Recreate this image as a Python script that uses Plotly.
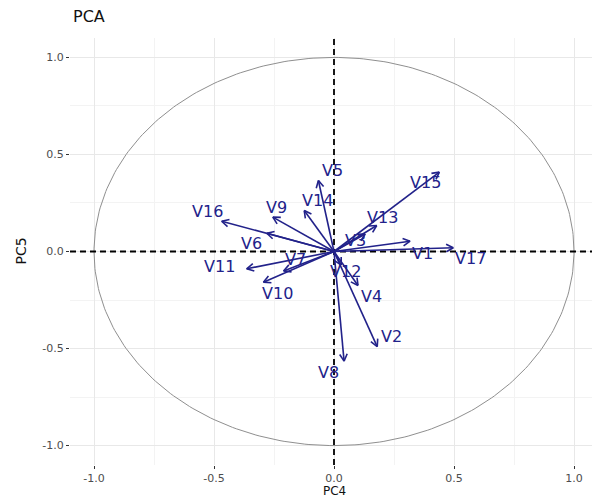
import numpy as np
import plotly.graph_objects as go

# ---- data ----
var_names = ["V1", "V2", "V3", "V4", "V5", "V6", "V7", "V8", "V9", "V10",
             "V11", "V12", "V13", "V14", "V15", "V16", "V17"]
pc4 = [0.317, 0.180, 0.130, 0.100, -0.065, -0.280, -0.210, 0.042, -0.255, -0.294,
       -0.364, 0.030, 0.178, -0.124, 0.439, -0.468, 0.497]
pc5 = [0.053, -0.490, 0.090, -0.175, 0.366, 0.094, -0.100, -0.565, 0.177, -0.158,
       -0.089, -0.070, 0.134, 0.211, 0.409, 0.156, 0.019]
x_ticks = [-1.0, -0.5, 0.0, 0.5, 1.0]
y_ticks = [-1.0, -0.5, 0.0, 0.5, 1.0]

# ---- styling / layout ----
W, H = 592, 499
ML, MR, MT, MB = 70, 0, 38, 34
XR = [-1.1, 1.075]
YR = [-1.1, 1.1]
COL = "#22228a"
FONT = "DejaVu Sans"
# label pixel offsets (dx right, dy down)
lab_dx = [12, 14, -10, 13, 14, -15, 12, -16, 4, 14, -27, 4, 6, 13, -14, -14, 17]
lab_dy = [12, -10, 6, 11, -10, 10, -11, 11, -10, 11, -2, 6, -8, -10, 10, -10, 11]

sx = (W - ML - MR) / (XR[1] - XR[0])
sy = (H - MT - MB) / (YR[1] - YR[0])

fig = go.Figure()

# correlation circle
t = np.linspace(0, 2 * np.pi, 361)
fig.add_trace(go.Scatter(x=np.cos(t), y=np.sin(t), mode="lines",
                         line=dict(color="#8f8f8f", width=1), hoverinfo="skip",
                         showlegend=False))

# dashed reference lines at 0, spanning the panel
dash_style = dict(color="black", width=1.8, dash="6px,4px")
fig.add_trace(go.Scatter(x=XR, y=[0, 0], mode="lines", line=dash_style,
                         hoverinfo="skip", showlegend=False))
fig.add_trace(go.Scatter(x=[0, 0], y=YR, mode="lines", line=dash_style,
                         hoverinfo="skip", showlegend=False))

# arrows: shafts + open heads computed in pixel space
ax_, ay_ = [], []
head_len, ang = 8.0, np.deg2rad(28)
for x, y in zip(pc4, pc5):
    ax_ += [0, x, None]
    ay_ += [0, y, None]
    px, py = x * sx, y * sy
    n = np.hypot(px, py)
    ux, uy = px / n, py / n
    for s in (1, -1):
        c, si = np.cos(s * ang), np.sin(s * ang)
        rx = ux * c - uy * si
        ry = ux * si + uy * c
        hx = x - head_len * rx / sx
        hy = y - head_len * ry / sy
        ax_ += [x, hx, None]
        ay_ += [y, hy, None]
fig.add_trace(go.Scatter(x=ax_, y=ay_, mode="lines",
                         line=dict(color=COL, width=1.6), hoverinfo="skip",
                         showlegend=False))

annotations = []
for name, x, y, dx, dy in zip(var_names, pc4, pc5, lab_dx, lab_dy):
    annotations.append(dict(x=x, y=y, xref="x", yref="y", text=name, showarrow=False,
                            xshift=dx, yshift=-dy, xanchor="center", yanchor="middle",
                            font=dict(family=FONT, size=16, color=COL)))

# axis titles
annotations.append(dict(x=0, y=0, xref="x", yref="paper", text="PC4", showarrow=False,
                        xanchor="center", yanchor="top", yshift=-18, borderpad=0,
                        font=dict(family=FONT, size=12, color="#111")))
annotations.append(dict(x=0, y=0, xref="paper", yref="y", text="PC5", showarrow=False,
                        xanchor="center", yanchor="middle", xshift=-50, textangle=-90,
                        font=dict(family=FONT, size=14, color="#111")))

axis_common = dict(
    showgrid=True, gridcolor="#e8e8e8", gridwidth=1, zeroline=False,
    ticks="outside", ticklen=3, tickwidth=1, tickcolor="#333333",
    tickfont=dict(family=FONT, size=11, color="#4d4d4d"),
    showline=False, automargin=False,
    minor=dict(dtick=0.25, showgrid=True, gridcolor="#f3f3f3", gridwidth=0.8),
)

fig.update_layout(
    width=W, height=H,
    margin=dict(l=ML, r=MR, t=MT, b=MB, pad=0, autoexpand=False),
    paper_bgcolor="white", plot_bgcolor="white",
    title=dict(text="PCA", x=73 / W, xanchor="left", y=1 - 16 / H, yanchor="middle",
               font=dict(family=FONT, size=16, color="#111")),
    xaxis=dict(range=XR, tickvals=x_ticks, ticktext=[f"{v:.1f}" for v in x_ticks],
               **axis_common),
    yaxis=dict(range=YR, tickvals=y_ticks, ticktext=[f"{v:.1f}" for v in y_ticks],
               **axis_common),
    annotations=annotations,
    showlegend=False,
)

fig.write_html("out.html", config={"displayModeBar": False},
               post_script="document.body.style.margin='0';")
